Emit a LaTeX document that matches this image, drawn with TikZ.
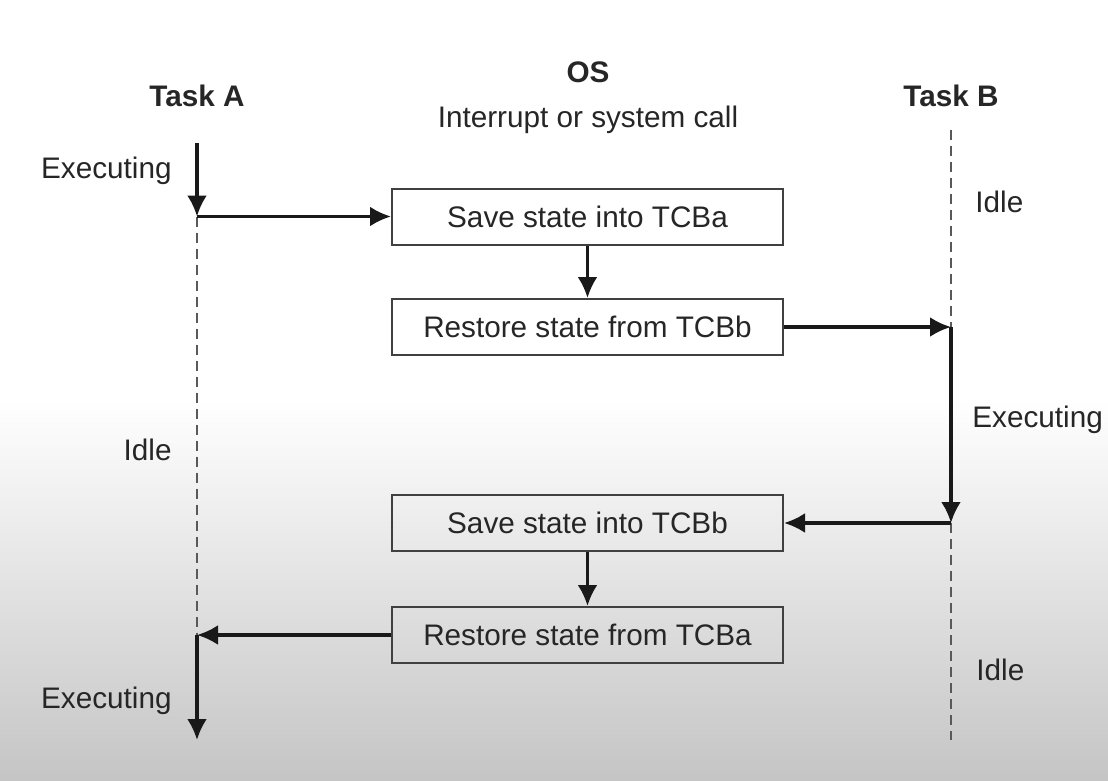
\documentclass[tikz,border=0pt]{standalone}
\usepackage{fontspec}
\setmainfont{Liberation Sans}
\usetikzlibrary{arrows.meta}
\begin{document}
\begin{tikzpicture}[x=0.5pt,y=-0.5pt,
  box/.style={draw=black!75,line width=1pt,minimum width=195.5pt,minimum height=28pt,inner sep=0pt,text=black!85,font=\fontsize{14.85}{18}\selectfont},
  arr/.style={line width=1.7pt,draw=black!90,-{Latex[length=10.5pt,width=10pt]}},
  idle/.style={draw=black!65,line width=0.6pt,dash pattern=on 5pt off 3pt},
  lbl/.style={inner sep=0pt,text=black!85,font=\fontsize{14.85}{18}\selectfont},
  head/.style={lbl,font=\fontsize{14.85}{18}\selectfont\bfseries}]
%Background
\fill[white] (0,0) rectangle (1108,781);
\shade[top color=white,bottom color=black!23] (0,400) rectangle (1108,781);
\useasboundingbox (0,0) rectangle (1108,781);

%Headings
\node [head,anchor=base] (20) at (197,107) {Task A};
\node [head,anchor=base] (21) at (588,83) {OS};
\node [lbl,anchor=base] (22) at (588,127) {Interrupt or system call};
\node [head,anchor=base] (23) at (951,107) {Task B};

%Time lines
\node [] (0) at (197,143) {};
\node [] (1) at (197,216.5) {};
\node [] (2) at (197,635) {};
\node [] (3) at (197,740) {};
\node [] (4) at (951,130) {};
\node [] (5) at (951,327) {};
\node [] (6) at (951,523) {};
\node [] (7) at (951,740) {};

%OS boxes
\node [box] (8) at (587.5,216.5) {Save state into TCBa};
\node [box] (9) at (587.5,327) {Restore state from TCBb};
\node [box] (10) at (587.5,523) {Save state into TCBb};
\node [box] (11) at (587.5,635) {Restore state from TCBa};

\draw [idle] (1.center) to (2.center);
\draw [idle] (4.center) to (5.center);
\draw [idle] (6.center) to (7.center);
\draw [arr] (0.center) to (1.center);
\draw [arr] (1.center) to (8.west);
\draw [arr] (8.south) to (9.north);
\draw [arr] (9.east) to (5.center);
\draw [arr] (5.center) to (6.center);
\draw [arr] (6.center) to (10.east);
\draw [arr] (10.south) to (11.north);
\draw [arr] (11.west) to (2.center);
\draw [arr] (2.center) to (3.center);

%State labels
\node [lbl,anchor=base east] (12) at (172,178) {Executing};
\node [lbl,anchor=base east] (13) at (172,460) {Idle};
\node [lbl,anchor=base east] (14) at (172,708) {Executing};
\node [lbl,anchor=base west] (15) at (975,213) {Idle};
\node [lbl,anchor=base west] (16) at (972,427) {Executing};
\node [lbl,anchor=base west] (17) at (976,680) {Idle};
\end{tikzpicture}
\end{document}
